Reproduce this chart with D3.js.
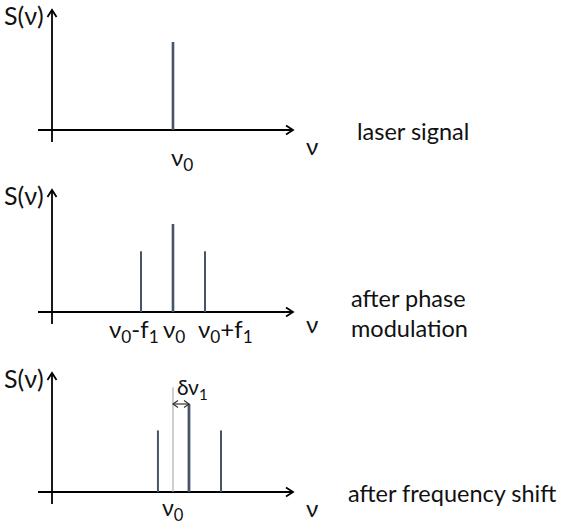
<!DOCTYPE html>
<html>
<head>
<meta charset="utf-8">
<script src="https://cdn.jsdelivr.net/npm/d3@7/dist/d3.min.js"></script>
<style>
html,body{margin:0;padding:0;background:#fff;}
svg{display:block;}
text{font-family:Lato,"Open Sans",sans-serif;fill:#111;}
</style>
</head>
<body>
<svg id="c" width="562" height="526"></svg>
<script>
// ---- data (frequency in units of f1, nu0 = 0; amplitude relative to carrier) ----
const panelTitles = [["laser signal"], ["after phase", "modulation"], ["after frequency shift"]];
const spikePos1 = [0];
const spikeAmp1 = [1];
const spikePos2 = [-1, 0, 1];
const spikeAmp2 = [0.69, 1, 0.69];
const spikePos3 = [-0.47, 0.5, 1.5];
const spikeAmp3 = [0.7, 1, 0.7];
const refPos3 = [0];
const refAmp3 = [1.19];
const shiftDelta = 0.5;
const tickLabels2 = [{pos: -1, t: ["ν", "0", "-f", "1"]}, {pos: 0, t: ["ν", "0"]}, {pos: 1, t: ["ν", "0", "+f", "1"]}];

const svg = d3.select("#c");
const x = d3.scaleLinear().domain([-3.78, 3.75]).range([52, 293]);
const y = d3.scaleLinear().domain([0, 1]).range([0, -88]);

const baselines = [130, 312, 492];
const tops = [10, 190, 373];
const spikeColor = "#465568";

function arrowHead(g, x0, y0, dir) {
  const s = 7;
  let p;
  if (dir === "up") p = [[x0 - s * 0.65, y0 + s], [x0, y0], [x0 + s * 0.65, y0 + s]];
  else p = [[x0 - s, y0 - s * 0.65], [x0, y0], [x0 - s, y0 + s * 0.65]];
  g.append("path").attr("d", d3.line()(p)).attr("fill", "none")
    .attr("stroke", "#000").attr("stroke-width", 1.8);
}

function sub(g, px, py, parts, size, anchor) {
  const t = g.append("text").attr("x", px).attr("y", py).attr("font-size", size).attr("text-anchor", anchor || "start");
  parts.forEach((s, i) => {
    const isSub = i % 2 === 1;
    t.append("tspan").text(s)
      .attr("font-size", isSub ? size * 0.72 : size)
      .attr("dy", i === 0 ? 0 : (isSub ? size * 0.22 : -size * 0.22));
  });
  return t;
}

function axes(i) {
  const g = svg.append("g").attr("transform", `translate(0,${baselines[i]})`);
  const top = tops[i] - baselines[i];
  g.append("line").attr("x1", x.range()[0]).attr("x2", x.range()[0])
    .attr("y1", 12).attr("y2", top).attr("stroke", "#000").attr("stroke-width", 1.8);
  arrowHead(g, x.range()[0], top, "up");
  g.append("line").attr("x1", 38).attr("x2", x.range()[1]).attr("y1", 0).attr("y2", 0)
    .attr("stroke", "#000").attr("stroke-width", 1.8);
  arrowHead(g, x.range()[1], 0, "right");
  // S(v) label
  g.append("text").attr("x", 4).attr("y", top + 15).attr("font-size", 25).text("S(ν)");
  // v label
  g.append("text").attr("x", 306).attr("y", i === 1 ? 21 : 25).attr("font-size", 24).text("ν");
  return g;
}

function spikes(g, pos, amp, widths, color) {
  g.selectAll(null).data(pos.map((p, k) => ({p, a: amp[k], w: widths[k]}))).enter()
    .append("line")
    .attr("x1", d => x(d.p)).attr("x2", d => x(d.p))
    .attr("y1", 0).attr("y2", d => y(d.a))
    .attr("stroke", color).attr("stroke-width", d => d.w);
}

// Panel 1
const g1 = axes(0);
spikes(g1, spikePos1, spikeAmp1, [2.6], spikeColor);
sub(g1, x(0) - 2, 36, ["ν", "0"], 24);
panelTitles[0].forEach((t, k) => svg.append("text").attr("x", 357).attr("y", 140 + k * 30).attr("font-size", 23.5).text(t));

// Panel 2
const g2 = axes(1);
spikes(g2, spikePos2, spikeAmp2, [2, 2.6, 2], spikeColor);
sub(g2, x(-1) - 32, 26, tickLabels2[0].t, 24);
sub(g2, x(0) - 10, 26, tickLabels2[1].t, 24);
sub(g2, x(1) - 7, 26, tickLabels2[2].t, 24);
panelTitles[1].forEach((t, k) => svg.append("text").attr("x", 351).attr("y", 307 + k * 30).attr("font-size", 23.5).text(t));

// Panel 3
const g3 = axes(2);
spikes(g3, refPos3, refAmp3, [1.1], "#a8a8a8");
spikes(g3, spikePos3, spikeAmp3, [2, 2.8, 2], spikeColor);
// double arrow for the shift
const ay = y(1);
const da = g3.append("g");
da.append("line").attr("x1", x(0)).attr("x2", x(shiftDelta)).attr("y1", ay).attr("y2", ay)
  .attr("stroke", "#333").attr("stroke-width", 1.2);
[[x(0), 1], [x(shiftDelta), -1]].forEach(([px, d]) => {
  da.append("path").attr("d", d3.line()([[px + d * 5, ay - 3.5], [px, ay], [px + d * 5, ay + 3.5]]))
    .attr("fill", "none").attr("stroke", "#333").attr("stroke-width", 1.2);
});
sub(g3, x(0) + 4, -97, ["δν", "1"], 21);
sub(g3, x(0) - 11, 24, ["ν", "0"], 23);
panelTitles[2].forEach((t, k) => svg.append("text").attr("x", 348).attr("y", 502 + k * 30).attr("font-size", 23.5).text(t));
</script>
</body>
</html>
